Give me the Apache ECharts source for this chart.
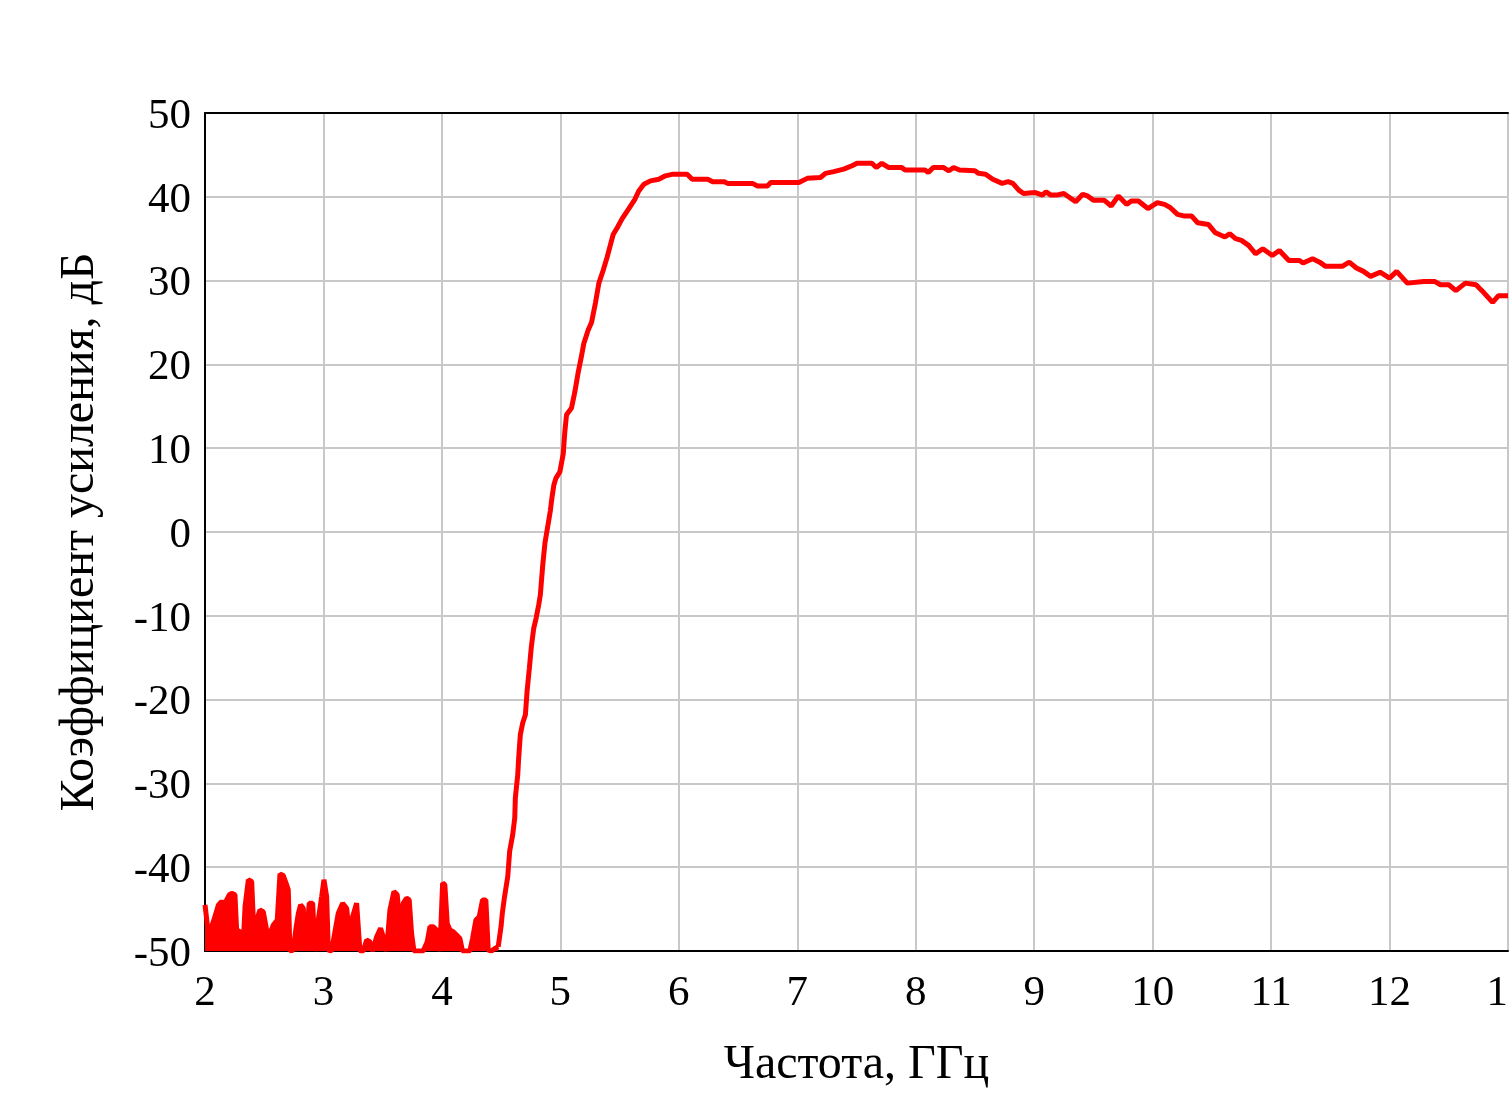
<!DOCTYPE html>
<html>
<head>
<meta charset="utf-8">
<script src="https://cdn.jsdelivr.net/npm/echarts@6/dist/echarts.min.js"></script>
<style>
  html, body { margin: 0; padding: 0; background: #fff; }
  #chart { width: 1509px; height: 1098px; }
</style>
</head>
<body>
<div id="chart"></div>
<script>
// Axis setup
const xTicks = [2, 3, 4, 5, 6, 7, 8, 9, 10, 11, 12, 13];
const yTicks = [-50, -40, -30, -20, -10, 0, 10, 20, 30, 40, 50];

// Noise floor region (GHz, dB)
const freqNoise = [2.000, 2.028, 2.056, 2.084, 2.113, 2.141, 2.169, 2.183, 2.205, 2.225, 2.253, 2.267, 2.295, 2.323, 2.338, 2.366, 2.394, 2.408, 2.436, 2.464, 2.492, 2.520, 2.549, 2.577, 2.610, 2.633, 2.661, 2.684, 2.703, 2.717, 2.745, 2.768, 2.788, 2.807, 2.830, 2.844, 2.864, 2.880, 2.909, 2.928, 2.956, 2.985, 3.004, 3.027, 3.041, 3.069, 3.097, 3.125, 3.162, 3.196, 3.218, 3.246, 3.280, 3.308, 3.336, 3.364, 3.392, 3.415, 3.449, 3.482, 3.505, 3.533, 3.561, 3.595, 3.623, 3.646, 3.674, 3.702, 3.724, 3.744, 3.764, 3.842, 3.876, 3.899, 3.927, 3.955, 3.983, 4.006, 4.025, 4.045, 4.068, 4.096, 4.124, 4.152, 4.174, 4.236, 4.259, 4.287, 4.315, 4.343, 4.371, 4.391, 4.419, 4.447, 4.475];
const gainNoise = [-44.5, -47.9, -47.1, -45.9, -44.5, -44.1, -44.5, -43.9, -43.3, -43.1, -43.3, -47.5, -47.7, -49.1, -44.7, -41.5, -41.7, -46.3, -46.3, -45.1, -45.3, -47.5, -47.9, -46.9, -46.3, -40.8, -41.0, -41.9, -42.7, -50, -49.9, -47.3, -45.5, -44.5, -44.9, -49.9, -47.1, -44.3, -44.3, -50, -46.3, -43.5, -41.5, -43.5, -49.9, -50, -47.7, -45.5, -44.3, -44.9, -47.9, -45.9, -44.3, -50, -50, -48.7, -48.9, -50, -48.3, -47.3, -48.3, -50, -45.1, -42.9, -43.3, -47.1, -44.3, -43.7, -43.9, -47.9, -50, -50, -48.9, -47.1, -47.1, -47.5, -50, -41.9, -42.1, -46.7, -47.5, -47.7, -48.1, -48.5, -50, -50, -48.5, -46.3, -45.9, -43.9, -43.9, -49.9, -50, -49.7, -49.5];

// Rising edge and passband (GHz, dB)
const freqBand = [4.475, 4.500, 4.510, 4.527, 4.556, 4.572, 4.598, 4.615, 4.620, 4.640, 4.648, 4.662, 4.682, 4.705, 4.719, 4.738, 4.755, 4.775, 4.795, 4.817, 4.831, 4.851, 4.870, 4.895, 4.915, 4.930, 4.945, 4.962, 4.996, 5.024, 5.038, 5.052, 5.094, 5.122, 5.150, 5.173, 5.198, 5.235, 5.263, 5.297, 5.325, 5.361, 5.395, 5.423, 5.446, 5.480, 5.522, 5.578, 5.629, 5.662, 5.705, 5.761, 5.831, 5.887, 5.950, 6.070, 6.113, 6.244, 6.286, 6.384, 6.412, 6.622, 6.664, 6.748, 6.776, 7.014, 7.084, 7.196, 7.238, 7.308, 7.392, 7.462, 7.504, 7.630, 7.667, 7.714, 7.770, 7.882, 7.910, 8.078, 8.106, 8.148, 8.232, 8.28, 8.32, 8.37, 8.50, 8.53, 8.59, 8.65, 8.73, 8.78, 8.82, 8.87, 8.91, 9.01, 9.07, 9.10, 9.14, 9.19, 9.25, 9.35, 9.41, 9.45, 9.50, 9.59, 9.65, 9.71, 9.78, 9.82, 9.88, 9.96, 10.04, 10.10, 10.15, 10.21, 10.27, 10.33, 10.38, 10.47, 10.53, 10.61, 10.65, 10.70, 10.75, 10.81, 10.87, 10.93, 11.01, 11.07, 11.15, 11.24, 11.27, 11.35, 11.41, 11.46, 11.60, 11.66, 11.72, 11.78, 11.84, 11.92, 12.00, 12.06, 12.15, 12.29, 12.38, 12.43, 12.50, 12.56, 12.64, 12.73, 12.78, 12.87, 12.92, 13.00];
const gainBand = [-49.5, -47.0, -45.5, -43.7, -41.1, -38.1, -36.1, -34.1, -31.7, -29.0, -27.0, -24.2, -22.8, -21.8, -19.0, -16.3, -13.7, -11.5, -10.3, -8.7, -7.5, -4.0, -1.3, 0.8, 2.5, 4.2, 5.6, 6.4, 7.2, 9.3, 12.0, 14.0, 14.8, 16.7, 19.0, 20.6, 22.5, 24.1, 25.0, 27.4, 29.7, 31.2, 32.8, 34.3, 35.5, 36.3, 37.4, 38.6, 39.7, 40.7, 41.5, 41.9, 42.1, 42.5, 42.7, 42.7, 42.1, 42.1, 41.8, 41.8, 41.6, 41.6, 41.3, 41.3, 41.7, 41.7, 42.2, 42.3, 42.8, 43.0, 43.3, 43.7, 44.0, 44.0, 43.5, 44.0, 43.5, 43.5, 43.2, 43.2, 42.9, 43.5, 43.5, 43.1, 43.5, 43.2, 43.1, 42.8, 42.7, 42.1, 41.6, 41.8, 41.6, 40.8, 40.4, 40.5, 40.2, 40.6, 40.2, 40.2, 40.4, 39.4, 40.3, 40.1, 39.6, 39.6, 38.9, 40.1, 39.1, 39.5, 39.5, 38.6, 39.3, 39.1, 38.7, 37.9, 37.7, 37.7, 36.9, 36.7, 35.7, 35.2, 35.6, 35.0, 34.8, 34.2, 33.2, 33.8, 33.0, 33.6, 32.4, 32.4, 32.1, 32.6, 32.2, 31.7, 31.7, 32.2, 31.5, 31.1, 30.5, 31.0, 30.3, 31.1, 29.7, 29.9, 29.9, 29.5, 29.5, 28.8, 29.7, 29.5, 28.8, 27.4, 28.2, 28.2];

const xTitle = 'Частота, ГГц';
const yTitle = 'Коэффициент усиления, дБ';

const zip = (a, b) => a.map((v, i) => [v, b[i]]);
const FONT = "'Liberation Serif', 'Times New Roman', serif";

const chart = echarts.init(document.getElementById('chart'), null, { renderer: 'canvas' });
chart.setOption({
  animation: false,
  backgroundColor: '#ffffff',
  grid: { left: 205, top: 113, right: 1, bottom: 147, containLabel: false, outerBoundsMode: 'none' },
  xAxis: [{
    type: 'value',
    min: xTicks[0], max: xTicks[xTicks.length - 1], interval: 1,
    name: xTitle, nameLocation: 'middle', nameGap: 90,
    nameTextStyle: { fontFamily: FONT, fontSize: 48, color: '#000' },
    axisLine: { show: true, onZero: false, lineStyle: { color: '#000', width: 2 } },
    axisTick: { show: false },
    axisLabel: { fontFamily: FONT, fontSize: 43, color: '#000', margin: 21, showMaxLabel: true, showMinLabel: true, hideOverlap: false },
    splitLine: { show: true, lineStyle: { color: '#c8c8c8', width: 2 } }
  }, {
    type: 'value', position: 'top',
    min: xTicks[0], max: xTicks[xTicks.length - 1], interval: 1,
    axisLine: { show: true, onZero: false, lineStyle: { color: '#000', width: 2 } },
    axisTick: { show: false }, axisLabel: { show: false }, splitLine: { show: false }
  }],
  yAxis: {
    type: 'value',
    min: yTicks[0], max: yTicks[yTicks.length - 1], interval: 10,
    name: yTitle, nameLocation: 'middle', nameGap: 101,
    nameTextStyle: { fontFamily: FONT, fontSize: 48, color: '#000' },
    axisLine: { show: true, onZero: false, lineStyle: { color: '#000', width: 2 } },
    axisTick: { show: false },
    axisLabel: {
      color: '#000', margin: 14,
      formatter: (v) => '{t|' + v + '}',
      rich: { t: { fontFamily: FONT, fontSize: 43, color: '#000', padding: [7, 0, 0, 0] } }
    },
    splitLine: { show: true, lineStyle: { color: '#c8c8c8', width: 2 } }
  },
  series: [{
    type: 'line',
    data: zip(freqNoise, gainNoise),
    showSymbol: false,
    lineStyle: { color: '#ff0000', width: 5 },
    areaStyle: { color: '#ff0000', opacity: 1, origin: 'start' },
    z: 3
  }, {
    type: 'line',
    data: zip(freqBand, gainBand),
    showSymbol: false,
    lineStyle: { color: '#ff0000', width: 5 },
    z: 3
  }]
});
</script>
</body>
</html>
